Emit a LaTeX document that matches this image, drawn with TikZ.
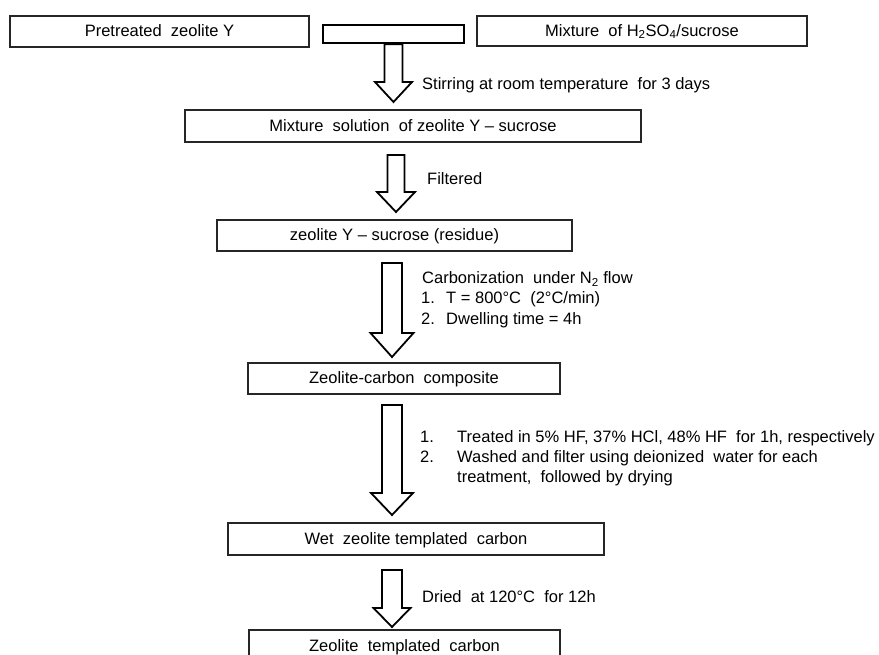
\documentclass[tikz,border=0pt]{standalone}
\usepackage{fontspec}
\setmainfont{Liberation Sans}
\usetikzlibrary{calc}
\tikzset{
  box/.style={draw=black!85, line width=1.2pt, rectangle, inner sep=0pt, text height=11pt, text depth=0.5pt, font=\fontsize{16.5}{19}\selectfont},
  thickbox/.style={draw=black, line width=2.4pt, rectangle, inner sep=0pt},
  hollowarrow/.style={draw=black, line width=1.8pt, fill=white, line join=miter},
  lbl/.style={anchor=base west, inner sep=0pt, font=\fontsize{16.5}{19}\selectfont}
}
\newcommand{\hollowdown}[5]{%
  \draw[hollowarrow] let \p1=(#1), \p2=(#2) in
    (\x2-#3pt,\y1) -- (\x2-#3pt,\y2+#5pt) -- (\x2-#4pt,\y2+#5pt) -- (\x2,\y2)
    -- (\x2+#4pt,\y2+#5pt) -- (\x2+#3pt,\y2+#5pt) -- (\x2+#3pt,\y1) -- cycle;}
\begin{document}
\begin{tikzpicture}[x=1pt,y=-1pt]
\useasboundingbox (0,0) rectangle (879,655);
% boxes
\node[box, minimum width=299, minimum height=31] (b1) at (159.5,31.5) {Pretreated\ \ zeolite Y};
\node[thickbox, minimum width=141, minimum height=18] (mid) at (393.5,34) {};
\node[box, minimum width=330, minimum height=30] (b3) at (642,31) {Mixture\ \ of H\textsubscript{2}SO\textsubscript{4}/sucrose};
\node[box, minimum width=456, minimum height=32] (b4) at (413,126) {Mixture\ \ solution\ \ of zeolite Y -- sucrose};
\node[box, minimum width=355, minimum height=31] (b5) at (394.5,235.5) {zeolite Y -- sucrose (residue)};
\node[box, minimum width=312, minimum height=31] (b6) at (404,378.5) {Zeolite-carbon\ \ composite};
\node[box, minimum width=376, minimum height=32] (b7) at (416,539) {Wet\ \ zeolite templated\ \ carbon};
\node[box, minimum width=311, minimum height=32] (b8) at (404.5,646) {Zeolite\ \ templated\ \ carbon};
% arrow end points
\coordinate (a1tip) at (393.5,102);
\coordinate (a2top) at (396,155);
\coordinate (a2tip) at (396,212);
\coordinate (a3top) at (392,263);
\coordinate (a3tip) at (392,357);
\coordinate (a4top) at (392,405);
\coordinate (a4tip) at (392,515);
\coordinate (a5top) at (392,570);
\coordinate (a5tip) at (392,627);
% arrows
\hollowdown{mid.south}{a1tip}{9}{18.5}{20}
\hollowdown{a2top}{a2tip}{8.5}{19}{20}
\hollowdown{a3top}{a3tip}{10}{21.5}{24}
\hollowdown{a4top}{a4tip}{10}{21}{22}
\hollowdown{a5top}{a5tip}{10}{18.5}{19}
% labels
\node[lbl] (l1) at (422,90) {Stirring at room temperature\ \ for 3 days};
\node[lbl] (l2) at (427,185) {Filtered};
\node[lbl] (l3a) at (422,284) {Carbonization\ \ under N\textsubscript{2} flow};
\node[lbl] (l3b) at (421,304) {1.};
\node[lbl] (l3c) at (446,304) {T = 800°C\ \ (2°C/min)};
\node[lbl] (l3d) at (421,325) {2.};
\node[lbl] (l3e) at (446,325) {Dwelling time\ = 4h};
\node[lbl] (l4a) at (420,442) {1.};
\node[lbl] (l4b) at (457,442) {Treated in 5\% HF,\ 37\% HCl,\ 48\% HF\ \ for 1h, respectively};
\node[lbl] (l4c) at (420,462) {2.};
\node[lbl] (l4d) at (457,462) {Washed and filter using deionized\ \ water for each};
\node[lbl] (l4e) at (457,482) {treatment,\ \ followed by drying};
\node[lbl] (l5) at (422,602) {Dried\ \ at 120°C\ \ for 12h};
\end{tikzpicture}
\end{document}
